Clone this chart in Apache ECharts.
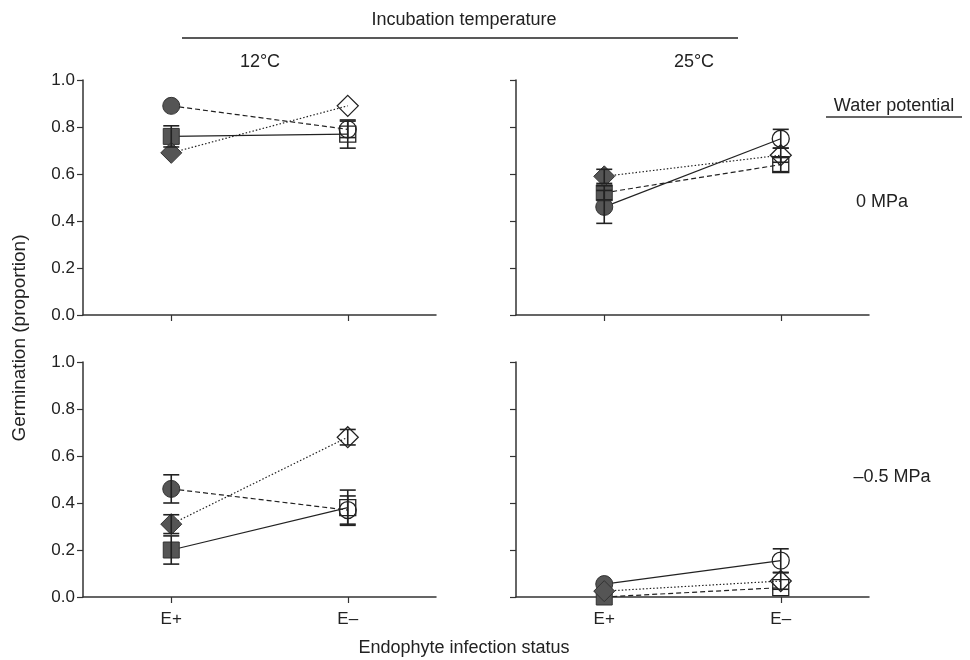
<!DOCTYPE html>
<html>
<head>
<meta charset="utf-8">
<script src="https://cdn.jsdelivr.net/npm/echarts@6/dist/echarts.min.js"></script>
<style>
  html, body { margin: 0; padding: 0; background: #fff; }
  #chart { width: 970px; height: 660px; }
</style>
</head>
<body>
<div id="chart"></div>
<script>
// categories on every x axis
const categories = ['E+', 'E\u2013'];

// panels: 0 = 12°C/0 MPa, 1 = 25°C/0 MPa, 2 = 12°C/-0.5 MPa, 3 = 25°C/-0.5 MPa
// each entry: [E+, E-]
const circleMean = [[0.89, 0.79], [0.46, 0.75], [0.46, 0.37], [0.055, 0.155]];
const circleErr = [[0, 0.035], [0.07, 0.04], [0.06, 0.06], [0, 0.05]];
const squareMean = [[0.76, 0.77], [0.52, 0.64], [0.20, 0.38], [0.0, 0.04]];
const squareErr = [[0.045, 0.06], [0.03, 0.03], [0.06, 0.075], [0, 0]];
const diamondMean = [[0.69, 0.89], [0.59, 0.68], [0.31, 0.68], [0.025, 0.068]];
const diamondErr = [[0, 0], [0.03, 0.03], [0.04, 0.033], [0, 0.035]];

const chart = echarts.init(document.getElementById('chart'));

const FONT = 'Liberation Sans, Arial, sans-serif';
const INK = '#222';
const FILL = '#555';

// line style per panel and shape
const lineStyles = {
  circle: ['dashed', 'solid', 'dashed', 'solid'],
  square: ['solid', 'dashed', 'solid', 'dashed'],
  diamond: ['dotted', 'dotted', 'dotted', 'dotted']
};
const dash = { solid: 'solid', dashed: [5, 3], dotted: [1.5, 2] };

const gridPos = [
  { left: 83, top: 80 },
  { left: 516, top: 80 },
  { left: 83, top: 362 },
  { left: 516, top: 362 }
];

const grids = gridPos.map(p => ({ left: p.left, top: p.top, width: 353, height: 235 }));

const xAxes = gridPos.map((p, i) => ({
  type: 'category',
  gridIndex: i,
  data: categories,
  boundaryGap: true,
  axisLine: { lineStyle: { color: '#333', width: 1.5 } },
  axisTick: { show: true, alignWithLabel: true, length: 6, lineStyle: { color: '#333', width: 1.2 },
    interval: 0 },
  axisLabel: { show: i >= 2, color: INK, fontSize: 17, fontFamily: FONT, margin: 14 },
  splitLine: { show: false }
}));

const yAxes = gridPos.map((p, i) => ({
  type: 'value',
  gridIndex: i,
  min: 0,
  max: 1,
  interval: 0.2,
  axisLine: { show: true, lineStyle: { color: '#333', width: 1.5 } },
  axisTick: { show: true, length: 6, lineStyle: { color: '#333', width: 1.2 } },
  axisLabel: { show: i % 2 === 0, color: INK, fontSize: 17, fontFamily: FONT, margin: 8,
    formatter: v => v.toFixed(1) },
  splitLine: { show: false }
}));

const shapes = [
  { key: 'circle', symbol: 'circle', size: 17, mean: circleMean, err: circleErr },
  { key: 'square', symbol: 'rect', size: 16, mean: squareMean, err: squareErr },
  { key: 'diamond', symbol: 'diamond', size: 21, mean: diamondMean, err: diamondErr }
];

const series = [];
for (let g = 0; g < 4; g++) {
  shapes.forEach(s => {
    const m = s.mean[g];
    series.push({
      type: 'line',
      xAxisIndex: g,
      yAxisIndex: g,
      symbol: s.symbol,
      symbolSize: s.size,
      z: 2,
      lineStyle: { color: INK, width: 1.2, type: dash[lineStyles[s.key][g]] },
      data: [
        { value: m[0], itemStyle: { color: FILL, borderColor: '#333', borderWidth: 1 } },
        { value: m[1], itemStyle: { color: 'rgba(255,255,255,0)', borderColor: INK, borderWidth: 1.3 } }
      ]
    });
    // error bars
    series.push({
      type: 'custom',
      xAxisIndex: g,
      yAxisIndex: g,
      z: 3,
      data: [0, 1].map(k => [k, m[k], s.err[g][k]]),
      renderItem: (params, api) => {
        const e = api.value(2);
        if (!e) return null;
        const x = api.value(0);
        const y = api.value(1);
        const hi = api.coord([x, y + e]);
        const lo = api.coord([x, Math.max(0, y - e)]);
        const w = 8;
        const style = { stroke: INK, lineWidth: 1.6 };
        return {
          type: 'group',
          children: [
            { type: 'line', shape: { x1: hi[0], y1: hi[1], x2: lo[0], y2: lo[1] }, style },
            { type: 'line', shape: { x1: hi[0] - w, y1: hi[1], x2: hi[0] + w, y2: hi[1] }, style },
            { type: 'line', shape: { x1: lo[0] - w, y1: lo[1], x2: lo[0] + w, y2: lo[1] }, style }
          ]
        };
      }
    });
  });
}

const textStyle = (text, size) => ({ text, fill: INK, font: size + 'px ' + FONT });

chart.setOption({
  animation: false,
  backgroundColor: '#fff',
  grid: grids,
  xAxis: xAxes,
  yAxis: yAxes,
  series,
  graphic: [
    { type: 'text', x: 464, y: 20, style: Object.assign(textStyle('Incubation temperature', 18), { align: 'center', verticalAlign: 'middle' }) },
    { type: 'line', shape: { x1: 182, y1: 38, x2: 738, y2: 38 }, style: { stroke: INK, lineWidth: 1.5 } },
    { type: 'text', x: 260, y: 62, style: Object.assign(textStyle('12\u00b0C', 18), { align: 'center', verticalAlign: 'middle' }) },
    { type: 'text', x: 694, y: 62, style: Object.assign(textStyle('25\u00b0C', 18), { align: 'center', verticalAlign: 'middle' }) },
    { type: 'text', x: 894, y: 106, style: Object.assign(textStyle('Water potential', 18), { align: 'center', verticalAlign: 'middle' }) },
    { type: 'line', shape: { x1: 826, y1: 117, x2: 962, y2: 117 }, style: { stroke: '#666', lineWidth: 2 } },
    { type: 'text', x: 882, y: 202, style: Object.assign(textStyle('0 MPa', 18), { align: 'center', verticalAlign: 'middle' }) },
    { type: 'text', x: 892, y: 477, style: Object.assign(textStyle('\u20130.5 MPa', 18), { align: 'center', verticalAlign: 'middle' }) },
    { type: 'text', x: 20, y: 338, rotation: Math.PI / 2, style: Object.assign(textStyle('Germination (proportion)', 19), { align: 'center', verticalAlign: 'middle' }) },
    { type: 'text', x: 464, y: 648, style: Object.assign(textStyle('Endophyte infection status', 18), { align: 'center', verticalAlign: 'middle' }) }
  ]
});
</script>
</body>
</html>
